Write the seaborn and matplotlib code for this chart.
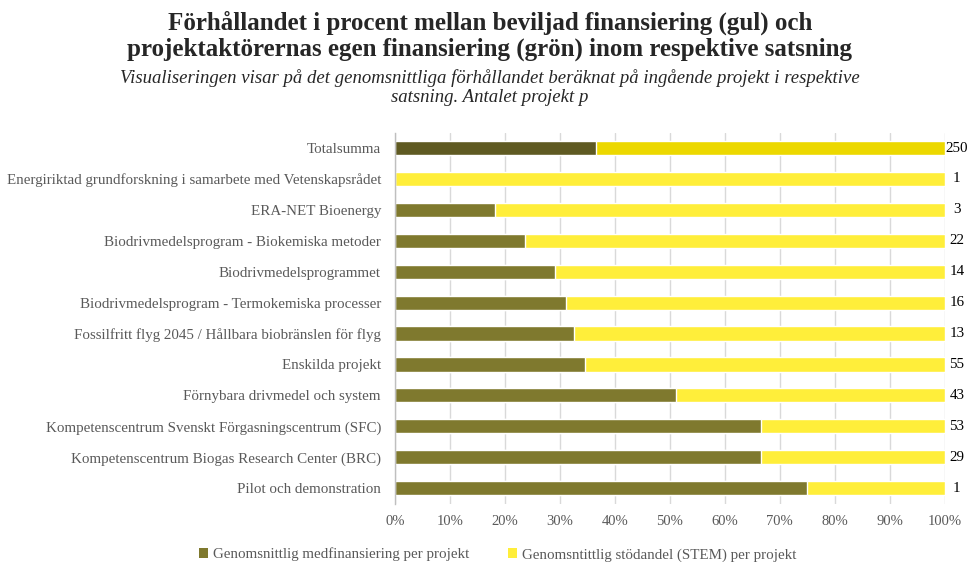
import matplotlib
matplotlib.use("Agg")
import matplotlib.pyplot as plt
from matplotlib.patches import Patch
import seaborn as sns
import pandas as pd

categories = [
    "Totalsumma",
    "Energiriktad grundforskning i samarbete med Vetenskapsrådet",
    "ERA-NET Bioenergy",
    "Biodrivmedelsprogram - Biokemiska metoder",
    "Biodrivmedelsprogrammet",
    "Biodrivmedelsprogram - Termokemiska processer",
    "Fossilfritt flyg 2045 / Hållbara biobränslen för flyg",
    "Enskilda projekt",
    "Förnybara drivmedel och system",
    "Kompetenscentrum Svenskt Förgasningscentrum (SFC)",
    "Kompetenscentrum Biogas Research Center (BRC)",
    "Pilot och demonstration",
]
medfinansiering = [36.5, 0.0, 18.3, 23.6, 29.1, 31.1, 32.5, 34.5, 51.1, 66.6, 66.6, 75.0]
stodandel = [63.5, 100.0, 81.7, 76.4, 70.9, 68.9, 67.5, 65.5, 48.9, 33.4, 33.4, 25.0]
antal_projekt = [250, 1, 3, 22, 14, 16, 13, 55, 43, 53, 29, 1]
x_ticks = [0, 10, 20, 30, 40, 50, 60, 70, 80, 90, 100]

df = pd.DataFrame({
    "kategori": categories,
    "med": medfinansiering,
    "stod": stodandel,
    "antal": antal_projekt,
})
df["total"] = df["med"] + df["stod"]

OLIVE = "#7f792e"
OLIVE_DARK = "#5f5a22"
YELLOW = "#ffee3a"
YELLOW_DARK = "#ecd800"
GRAY = "#595959"

sns.set_theme(style="white")
plt.rcParams["font.family"] = ["Liberation Serif", "DejaVu Serif"]

fig = plt.figure(figsize=(9.7, 5.62), dpi=100)
ax = fig.add_axes([0.407, 0.104, 0.567, 0.660])

yellow_pal = {c: (YELLOW_DARK if c == "Totalsumma" else YELLOW) for c in categories}
olive_pal = {c: (OLIVE_DARK if c == "Totalsumma" else OLIVE) for c in categories}

sns.barplot(data=df, y="kategori", x="total", hue="kategori", palette=yellow_pal,
            orient="h", width=0.46, legend=False, ax=ax, saturation=1)
sns.barplot(data=df, y="kategori", x="med", hue="kategori", palette=olive_pal,
            orient="h", width=0.46, legend=False, ax=ax, saturation=1)

ax.set_xlim(0, 100)
ax.set_ylim(len(categories) - 0.5, -0.5)
ax.set_xticks(x_ticks)
ax.set_xticklabels([f"{t}%" for t in x_ticks], fontsize=10.5, color=GRAY)
ax.tick_params(axis="y", labelsize=10.8, labelcolor=GRAY, length=0, pad=10)
ax.tick_params(axis="x", length=0, pad=8)
ax.set_xlabel("")
ax.set_ylabel("")
ax.grid(axis="x", color="#d9d9d9", linewidth=1)
ax.set_axisbelow(True)
for s in ["top", "right", "bottom"]:
    ax.spines[s].set_visible(False)
ax.spines["left"].set_color("#bfbfbf")
ax.spines["left"].set_linewidth(1)

for i, n in enumerate(df["antal"]):
    ax.annotate(str(n), xy=(100, i), xytext=(12, 0), textcoords="offset pixels",
                ha="center", va="center", fontsize=10.8, color="black")

fig.text(0.505, 0.960, "Förhållandet i procent mellan beviljad finansiering (gul) och",
         ha="center", va="center", fontsize=18, fontweight="bold")
fig.text(0.505, 0.912, "projektaktörernas egen finansiering (grön) inom respektive satsning",
         ha="center", va="center", fontsize=18, fontweight="bold")
fig.text(0.505, 0.861, "Visualiseringen visar på det genomsnittliga förhållandet beräknat på ingående projekt i respektive",
         ha="center", va="center", fontsize=13.5, style="italic")
fig.text(0.505, 0.826, "satsning. Antalet projekt p",
         ha="center", va="center", fontsize=13.5, style="italic")

handles = [Patch(facecolor=OLIVE, edgecolor="none"), Patch(facecolor=YELLOW, edgecolor="none")]
labels = ["Genomsnittlig medfinansiering per projekt", "Genomsntittlig stödandel (STEM) per projekt"]
leg = fig.legend(handles, labels, loc="center", bbox_to_anchor=(0.513, 0.013), ncol=2,
                 frameon=False, fontsize=10.8, handlelength=0.6, handleheight=0.6,
                 handletextpad=0.3, columnspacing=2.6)
for t in leg.get_texts():
    t.set_color(GRAY)

fig.savefig("out.png", dpi=100)
